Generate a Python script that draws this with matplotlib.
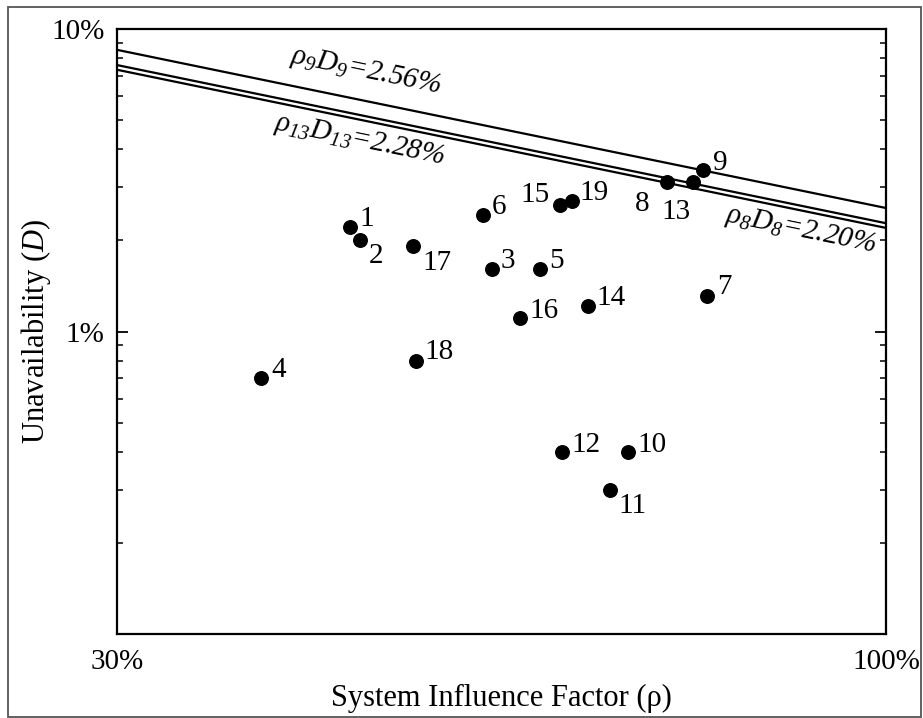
import numpy as np
import matplotlib
matplotlib.use("Agg")
import matplotlib.pyplot as plt
from matplotlib.patches import Rectangle
from matplotlib.ticker import FixedLocator, LogLocator, NullLocator, NullFormatter

plt.rcParams['font.family'] = ['Liberation Serif', 'DejaVu Serif']
plt.rcParams['mathtext.fontset'] = 'custom'
plt.rcParams['mathtext.it'] = 'Liberation Serif:italic'
plt.rcParams['mathtext.rm'] = 'Liberation Serif:italic'
plt.rcParams['mathtext.default'] = 'it'

# system influence factor (%) and unavailability (%) per component
ids = ['1', '2', '3', '4', '5', '6', '7', '8', '9', '10',
       '11', '12', '13', '14', '15', '16', '17', '18', '19']
rho = [43.2, 43.9, 54.0, 37.6, 58.2, 53.2, 75.6, 71.0, 75.1, 66.8,
       64.9, 60.2, 73.9, 62.7, 60.0, 56.4, 47.7, 47.9, 61.2]
unav = [2.21, 2.01, 1.61, 0.70, 1.61, 2.42, 1.31, 3.12, 3.42, 0.40,
        0.30, 0.40, 3.12, 1.21, 2.61, 1.11, 1.91, 0.80, 2.71]

# iso-product lines rho*D = const (%)
iso_vals = [2.56, 2.28, 2.20]
iso_labels = [r'$\rho_{9}D_{9}$=2.56%', r'$\rho_{13}D_{13}$=2.28%', r'$\rho_{8}D_{8}$=2.20%']
iso_label_x = [44.3, 43.9, 87.5]
iso_label_y = [7.24, 4.28, 2.155]

# label offsets in pixels (dx, dy, ha, va)
lab_pos = {
    '1': (10, 1, 'left', 'baseline'), '2': (9, -3, 'left', 'top'),
    '3': (8, 1, 'left', 'baseline'), '4': (10, 1, 'left', 'baseline'),
    '5': (9, 1, 'left', 'baseline'), '6': (9, 1, 'left', 'baseline'),
    '7': (10, 2, 'left', 'baseline'), '8': (-18, -9, 'right', 'top'),
    '9': (10, 0, 'left', 'baseline'), '10': (9, 0, 'left', 'baseline'),
    '11': (9, -3, 'left', 'top'), '12': (10, 0, 'left', 'baseline'),
    '13': (-2, -17, 'right', 'top'), '14': (9, 1, 'left', 'baseline'),
    '15': (-10, 3, 'right', 'baseline'), '16': (9, 0, 'left', 'baseline'),
    '17': (9, -4, 'left', 'top'), '18': (9, 2, 'left', 'baseline'),
    '19': (7, 1, 'left', 'baseline'),
}

fig = plt.figure(figsize=(9.23, 7.18), dpi=100)
ax = fig.add_axes([117/923, 1 - 634/718, 769/923, 605/718])
ax.set_xscale('log')
ax.set_yscale('log')
ax.set_xlim(30, 100)
ax.set_ylim(0.1, 10)

xs = np.array(ax.get_xlim())
for c in iso_vals:
    ax.plot(xs, c * 100 / xs, color='black', lw=1.6)

ax.scatter(rho, unav, s=95, color='black', zorder=3)
for i, x, y in zip(ids, rho, unav):
    dx, dy, ha, va = lab_pos[i]
    ax.annotate(i, (x, y), xytext=(dx, dy), textcoords='offset pixels',
                ha=ha, va=va, fontsize=21)

# rotate line labels along the lines
p0 = ax.transData.transform((30, iso_vals[0] * 100 / 30))
p1 = ax.transData.transform((100, iso_vals[0]))
ang = np.degrees(np.arctan2(p1[1] - p0[1], p1[0] - p0[0]))
for lab, x, y in zip(iso_labels, iso_label_x, iso_label_y):
    ax.text(x, y, lab, rotation=ang, rotation_mode='anchor', ha='center', va='center',
            fontsize=21, style='italic')

ax.xaxis.set_major_locator(FixedLocator([30, 100]))
ax.xaxis.set_minor_locator(NullLocator())
ax.set_xticklabels(['30%', '100%'])
ax.yaxis.set_major_locator(FixedLocator([1, 10]))
ax.set_yticklabels(['1%', '10%'])
ax.yaxis.set_minor_locator(LogLocator(base=10, subs=np.arange(2, 10)))
ax.yaxis.set_minor_formatter(NullFormatter())
ax.tick_params(axis='x', length=0, pad=11, labelsize=21)
ax.tick_params(axis='y', which='major', direction='in', length=8, width=1.3,
               right=True, pad=9, labelsize=21)
ax.tick_params(axis='y', which='minor', direction='in', length=4, width=1.1, right=True)
for sp in ax.spines.values():
    sp.set_linewidth(1.6)

ax.set_xlabel('System Influence Factor (ρ)', fontsize=22, labelpad=6)
ax.set_ylabel('Unavailability ($D$)', fontsize=22, labelpad=-1)

fig.patches.append(Rectangle((8/923, 1.5/718), 913/923, 710/718, transform=fig.transFigure,
                             fill=False, edgecolor='#555555', lw=1.3))

plt.savefig('out.png', dpi=100)
